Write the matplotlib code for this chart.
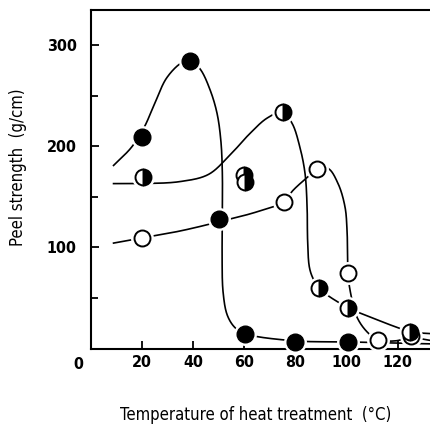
import numpy as np
import matplotlib.pyplot as plt


# measured points (temperature in deg C, peel strength in g/cm)

temp_filled = [20, 39, 50, 60.5, 80, 100.5]
peel_filled = [209, 285, 128, 14, 6, 6]

temp_half = [20.5, 60, 60.5, 75, 89.3, 100.5, 124.8]
peel_half = [170, 172, 165, 234, 59, 40, 16]

temp_open = [20, 75.6, 88.5, 100.6, 112.3, 125]
peel_open = [109, 145, 177, 74, 8, 12]


# hand-drawn guide curves (knots the freehand lines pass through)

filled_guide_x = [9, 16, 21, 25, 29.8, 35.7, 39.3, 43, 46.7, 49.4, 50.9, 51.5, 51.4, 51.8, 53.5, 56.5, 60.5, 80, 100.5, 115, 134]
filled_guide_y = [181, 199, 219, 242, 268, 283, 285, 276, 256, 233, 206, 173, 100, 55, 32, 20, 14, 7, 6, 5, 4]

half_guide_x = [9, 20, 35, 46, 54, 62, 69, 75, 78.7, 81.8, 83.8, 84.6, 84.8, 85.5, 86.9, 89.3, 100.5, 109, 118, 125, 134]
half_guide_y = [163, 163, 165, 172, 190, 212, 228, 234, 223, 199, 173, 140, 107, 80, 69, 59, 40, 31, 22, 16, 14]

open_guide_x = [9, 20, 35, 50, 65, 75.6, 79, 84.6, 88.5, 92.8, 96.7, 99.4, 100.2, 100.6, 101.4, 104, 108, 112.3, 119, 125, 134]
open_guide_y = [104, 109, 116, 125, 135, 145, 156, 169, 177, 178, 163, 140, 117, 74, 57, 31, 16, 8, 7, 10, 7]


def smooth_curve(xs, ys, n=60, xscale=2.5):
    # centripetal Catmull-Rom through the knots
    pts = np.column_stack([np.asarray(xs, float) * xscale, np.asarray(ys, float)])
    pts = np.vstack([2 * pts[0] - pts[1], pts, 2 * pts[-1] - pts[-2]])
    out = []
    for i in range(1, len(pts) - 2):
        p0, p1, p2, p3 = pts[i - 1:i + 3]
        t0 = 0.0
        t1 = t0 + np.linalg.norm(p1 - p0) ** 0.5
        t2 = t1 + np.linalg.norm(p2 - p1) ** 0.5
        t3 = t2 + np.linalg.norm(p3 - p2) ** 0.5
        t = np.linspace(t1, t2, n, endpoint=False)[:, None]
        a1 = (t1 - t) / (t1 - t0) * p0 + (t - t0) / (t1 - t0) * p1
        a2 = (t2 - t) / (t2 - t1) * p1 + (t - t1) / (t2 - t1) * p2
        a3 = (t3 - t) / (t3 - t2) * p2 + (t - t2) / (t3 - t2) * p3
        b1 = (t2 - t) / (t2 - t0) * a1 + (t - t0) / (t2 - t0) * a2
        b2 = (t3 - t) / (t3 - t1) * a2 + (t - t1) / (t3 - t1) * a3
        c = (t2 - t) / (t2 - t1) * b1 + (t - t1) / (t2 - t1) * b2
        out.append(c)
    out.append(pts[-2][None, :])
    out = np.vstack(out)
    return out[:, 0] / xscale, out[:, 1]


font = dict(family="DejaVu Sans", stretch="condensed")

fig = plt.figure(figsize=(4.31, 4.24), dpi=100)
ax = fig.add_axes([0.21, 0.177, 0.79, 0.799])

# guide lines
for gx, gy in [(filled_guide_x, filled_guide_y),
               (half_guide_x, half_guide_y),
               (open_guide_x, open_guide_y)]:
    cx, cy = smooth_curve(gx, gy)
    ax.plot(cx, cy, color="black", linewidth=1.2, zorder=2)

# white halos leave a small gap between lines and markers
for tx, py in [(temp_filled, peel_filled), (temp_half, peel_half), (temp_open, peel_open)]:
    ax.plot(tx, py, "o", ms=15.5, color="white", linestyle="none", zorder=3, clip_on=False)

ax.plot(temp_open, peel_open, "o", ms=11.5, markerfacecolor="white",
        markeredgecolor="black", markeredgewidth=1.4, linestyle="none", zorder=4, clip_on=False)
ax.plot(temp_half, peel_half, "o", ms=11.5, fillstyle="right", markerfacecolor="black",
        markerfacecoloralt="white", markeredgecolor="black", markeredgewidth=1.4,
        linestyle="none", zorder=4, clip_on=False)
ax.plot(temp_filled, peel_filled, "o", ms=12, color="black", linestyle="none", zorder=4, clip_on=False)

ax.set_xlim(0, 133)
ax.set_ylim(-1, 335)

ax.set_xticks([20, 40, 60, 80, 100, 120])
ax.set_yticks([100, 200, 300])
ax.set_yticks([50, 150, 250], minor=True)
ax.tick_params(axis="both", which="both", direction="in", width=1.3)
ax.tick_params(axis="x", which="major", length=6, pad=4)
ax.tick_params(axis="y", which="major", length=6, pad=10)
ax.tick_params(axis="y", which="minor", length=5)

for lab in ax.get_xticklabels() + ax.get_yticklabels():
    lab.set_fontproperties(dict(font, weight="bold", size=11.5))

ax.text(-4.8, -0.024, "0", transform=ax.get_xaxis_transform(), ha="center", va="top",
        fontweight="bold", fontsize=11.5, **font)

ax.spines["right"].set_visible(False)
for side in ["left", "bottom", "top"]:
    ax.spines[side].set_linewidth(1.5)

fig.text(0.042, 0.606, "Peel strength  (g/cm)", rotation=90, ha="center", va="center",
         fontsize=12, **font)
fig.text(0.594, 0.021, "Temperature of heat treatment  (°C)", ha="center", va="center",
         fontsize=12, **font)

fig.savefig("out.png", dpi=100)
